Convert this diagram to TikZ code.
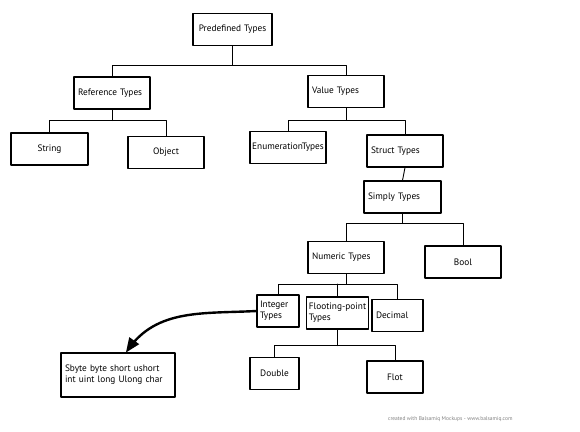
\documentclass[tikz,border=0pt]{standalone}
\usepackage{fontspec}
\setmainfont{PT Sans}
\usepackage{tikz}
\usetikzlibrary{arrows}
\begin{document}
\begin{tikzpicture}[line cap=round,line join=round,>=triangle 45,x=1pt,y=-1pt]
\tikzset{box/.style={draw,line width=1.1pt,minimum height=32pt,inner xsep=4pt,inner ysep=2pt,font=\fontsize{9.3}{11}\selectfont},
link/.style={line width=0.9pt}}
\useasboundingbox (0,0) rectangle (580,431);
% top levels
\node[box,text width=71pt,align=center] (pre) at (232.5,29.5) {Predefined Types};
\node[box,text width=68pt,align=left] (ref) at (112,93) {Reference Types};
\node[box,text width=68pt,align=left] (val) at (346,91.5) {Value Types};
\draw[link] (pre.south) -- ++(0,19) coordinate (b1);
\draw[link] (ref.north) |- (b1) -| (val.north);
% reference types
\node[box,text width=69pt,align=center] (str) at (49.5,149) {String};
\node[box,text width=68pt,align=center] (obj) at (166,152.5) {Object};
\draw[link] (ref.south) -- ++(0,11) coordinate (b2);
\draw[link] (str.north) |- (b2) -| (obj.north);
% value types
\node[box,minimum width=76pt,inner xsep=2pt] (enum) at (288,147.5) {EnumerationTypes};
\node[box,text width=68pt,align=left] (struct) at (405,151) {Struct Types};
\draw[link] (val.south) -- ++(0,12) coordinate (b3);
\draw[link] (enum.north) |- (b3) -| (struct.north);
\node[box,text width=69pt,align=left] (simply) at (402.5,197) {Simply Types};
\draw[link] (struct.south) -- (simply.north);
% simply types
\node[box,text width=68pt,align=left] (num) at (346,257.5) {Numeric Types};
\node[box,text width=68pt,align=center] (bool) at (463,262) {Bool};
\draw[link] (simply.south) -- ++(0,10) coordinate (b4);
\draw[link] (num.north) |- (b4) -| (bool.north);
% numeric types
\node[box,text width=36pt,align=left,inner xsep=3pt] (int) at (278,311) {Integer\\Types};
\node[box,minimum width=57pt,align=left,inner xsep=2pt] (flo) at (337.5,313) {Flooting-point\\Types};
\node[box,text width=43pt,align=left] (dec) at (397.5,315.5) {Decimal};
\draw[link] (num.south) -- ++(0,10) coordinate (b5);
\draw[link] (int.north) |- (b5) -| (dec.north);
\draw[link] (flo.north) -- (flo.north |- b5);
% flooting-point types
\node[box,text width=41pt,align=center] (dbl) at (274.5,373.5) {Double};
\node[box,text width=48pt,align=center] (flot) at (395,377) {Flot};
\draw[link] (flo.south) -- ++(0,16) coordinate (b6);
\draw[link] (dbl.north) |- (b6) -| (flot.north);
% integer types
\node[box,minimum height=44pt,text width=106pt,align=left] (sbyte) at (118,375) {Sbyte byte short ushort\\int uint long Ulong char};
\draw[->,line width=2.4pt] (int.west) to[out=183,in=55] ([xshift=8pt]sbyte.north);
\node[anchor=east,text=gray,font=\fontsize{5.5}{6}\selectfont] (credit) at (516,419) {created with Balsamiq Mockups - www.balsamiq.com};
\end{tikzpicture}
\end{document}
